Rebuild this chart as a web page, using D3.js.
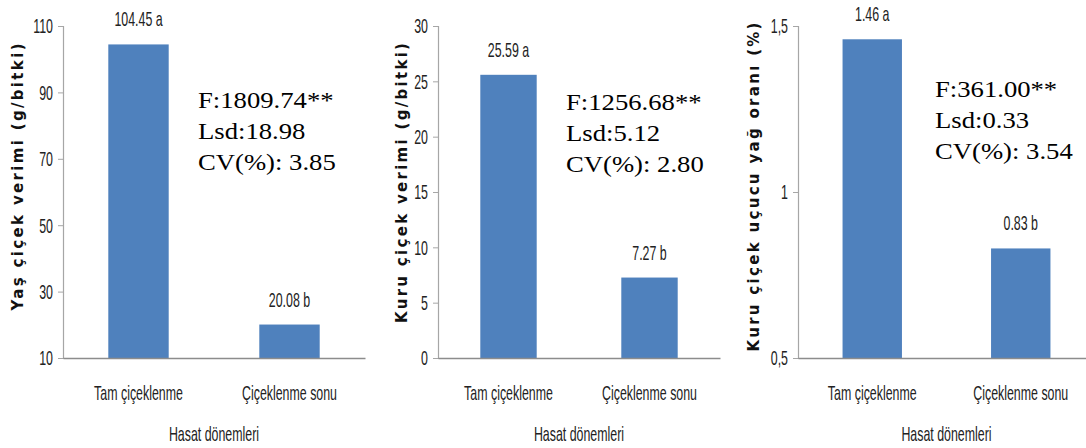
<!DOCTYPE html>
<html><head><meta charset="utf-8">
<script src="https://cdn.jsdelivr.net/npm/d3@7"></script>
<style>
html,body{margin:0;padding:0;background:#fff;}
svg{display:block;}
</style>
</head><body>
<svg id="chart" width="1086" height="448"></svg>
<script>
// ---- data ----
const categories = ["Tam çiçeklenme", "Çiçeklenme sonu"];
const groupLetters = ["a", "b"];
const xAxisTitle = "Hasat dönemleri";

const yasVerimi = [104.45, 20.08];
const kuruVerimi = [25.59, 7.27];
const yagOrani = [1.46, 0.83];

const yasTicks = [10, 30, 50, 70, 90, 110];
const kuruTicks = [0, 5, 10, 15, 20, 25, 30];
const yagTicks = [0.5, 1, 1.5];
const yagTickLabels = ["0,5", "1", "1,5"];

const yasTitle = "Yaş çiçek verimi (g/bitki)";
const kuruTitle = "Kuru çiçek verimi (g/bitki)";
const yagTitle = "Kuru çiçek uçucu yağ oranı (%)";

const yasStats = ["F:1809.74**", "Lsd:18.98", "CV(%): 3.85"];
const kuruStats = ["F:1256.68**", "Lsd:5.12", "CV(%): 2.80"];
const yagStats = ["F:361.00**", "Lsd:0.33", "CV(%): 3.54"];

// ---- layout ----
const panels = [
  {values: yasVerimi, ticks: yasTicks, tickLabels: yasTicks.map(String), domain: [10, 110],
   x0: 63, x1: 365, title: yasTitle, titleX: 18, titleY: 177, titleLen: 267,
   stats: yasStats, statsX: 198, statsY: 108},
  {values: kuruVerimi, ticks: kuruTicks, tickLabels: kuruTicks.map(String), domain: [0, 30],
   x0: 438, x1: 720, title: kuruTitle, titleX: 402, titleY: 183, titleLen: 280,
   stats: kuruStats, statsX: 566, statsY: 110},
  {values: yagOrani, ticks: yagTicks, tickLabels: yagTickLabels, domain: [0.5, 1.5],
   x0: 798, x1: 1095, title: yagTitle, titleX: 754, titleY: 187, titleLen: 329,
   stats: yagStats, statsX: 935, statsY: 97}
];
const yTop = 26, yBottom = 358;
const barColor = "#4F81BD";
const narrowFont = "'Liberation Sans', Arial, sans-serif";
const narrowSize = 20;
const narrowK = 0.62;
const serifK = 1.16;

const svg = d3.select("#chart");

// horizontally scale a text about its own x position
function squeeze(sel, k) {
  sel.each(function() {
    const t = d3.select(this);
    const x = +(t.attr("x") || 0);
    const prev = t.attr("transform") || "";
    t.attr("x", x / k).attr("transform", (prev + ` scale(${k},1)`).trim());
  });
}

panels.forEach(p => {
  const g = svg.append("g");
  const x = d3.scaleBand().domain(categories).range([p.x0, p.x1]).paddingInner(0.6).paddingOuter(0.3);
  const y = d3.scaleLinear().domain(p.domain).range([yBottom, yTop]);

  // y axis
  const yAxis = d3.axisLeft(y).tickValues(p.ticks).tickFormat((d, i) => p.tickLabels[i]).tickSize(5).tickPadding(5);
  const ya = g.append("g").attr("transform", `translate(${p.x0},0)`).call(yAxis);
  ya.select(".domain").attr("stroke", "#A6A6A6").attr("stroke-width", 1.2);
  ya.selectAll(".tick line").attr("stroke", "#A6A6A6");
  ya.selectAll(".tick text").attr("font-family", narrowFont).attr("font-size", narrowSize).attr("fill", "#222").attr("dy", "0.34em");
  squeeze(ya.selectAll(".tick text"), narrowK);

  // bars
  g.selectAll("rect.bar").data(p.values).join("rect")
    .attr("class", "bar")
    .attr("x", (d, i) => x(categories[i]))
    .attr("width", x.bandwidth())
    .attr("y", d => y(d))
    .attr("height", d => yBottom - y(d))
    .attr("fill", barColor);

  // x axis
  const xa = g.append("g").attr("transform", `translate(0,${yBottom})`)
    .call(d3.axisBottom(x).tickSize(0).tickPadding(28).tickSizeOuter(0));
  xa.select(".domain").attr("stroke", "#8C8C8C").attr("stroke-width", 1.5);
  xa.selectAll(".tick text").attr("font-family", narrowFont).attr("font-size", narrowSize).attr("fill", "#222").attr("dy", "0.7em");
  squeeze(xa.selectAll(".tick text"), narrowK);

  // value labels
  const vl = g.selectAll("text.val").data(p.values).join("text")
    .attr("class", "val")
    .attr("x", (d, i) => x(categories[i]) + x.bandwidth() / 2)
    .attr("y", d => y(d) - 18)
    .attr("text-anchor", "middle")
    .attr("font-family", narrowFont).attr("font-size", narrowSize).attr("fill", "#222")
    .text((d, i) => d3.format(".2f")(d) + " " + groupLetters[i]);
  squeeze(vl, narrowK);

  // x axis title
  const xt = g.append("text")
    .attr("x", (p.x0 + p.x1) / 2).attr("y", 441)
    .attr("text-anchor", "middle")
    .attr("font-family", narrowFont).attr("font-size", narrowSize).attr("fill", "#222")
    .text(xAxisTitle);
  squeeze(xt, narrowK);

  // y axis title
  g.append("text")
    .attr("transform", `translate(${p.titleX + 5},${p.titleY}) rotate(-90)`)
    .attr("text-anchor", "middle")
    .attr("font-family", "'DejaVu Sans', Verdana, sans-serif")
    .attr("font-weight", "bold").attr("font-size", 15).attr("fill", "#111")
    .attr("textLength", p.titleLen).attr("lengthAdjust", "spacing")
    .text(p.title);

  // stats
  const st = g.selectAll("text.stat").data(p.stats).join("text")
    .attr("class", "stat")
    .attr("x", p.statsX)
    .attr("y", (d, i) => p.statsY + i * 31)
    .attr("font-family", "'Liberation Serif', 'Times New Roman', serif")
    .attr("font-size", 23).attr("fill", "#000")
    .text(d => d);
  squeeze(st, serifK);
});
</script>
</body></html>
